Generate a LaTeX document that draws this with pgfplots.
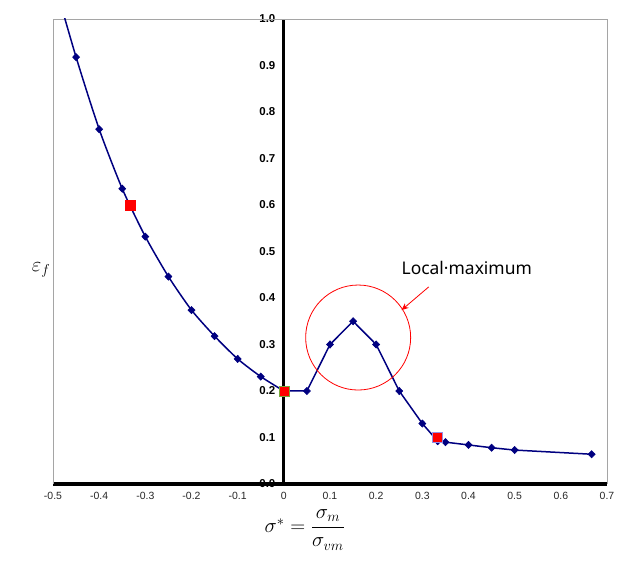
\documentclass[border=0pt]{standalone}
\usepackage{fontspec}
\setmainfont{Liberation Sans}
\newfontfamily\notosans{Noto Sans}
\usepackage{pgfplots}
\pgfplotsset{compat=1.18}
\usetikzlibrary{arrows.meta}
\definecolor{navyline}{RGB}{0,0,128}
\definecolor{framegray}{RGB}{165,165,165}
\begin{document}
\begin{tikzpicture}
\begin{axis}[
  width=554bp, height=465bp, scale only axis,
  xmin=-0.5, xmax=0.7, ymin=0, ymax=1,
  axis x line=bottom, axis y line=middle,
  axis line style={-, black, line width=3bp},
  hide obscured x ticks=false, hide obscured y ticks=false,
  xtick={-0.5,-0.4,-0.3,-0.2,-0.1,0,0.1,0.2,0.3,0.4,0.5,0.6,0.7},
  ytick={0,0.1,0.2,0.3,0.4,0.5,0.6,0.7,0.8,0.9,1.0},
  major tick length=0pt,
  /pgf/number format/assume math mode=true,
  xticklabel style={font=\fontsize{10.5}{12}\selectfont, text=black!85, yshift=-5bp},
  yticklabel style={font=\bfseries\fontsize{11.5}{13}\selectfont, xshift=-5bp,
    /pgf/number format/.cd, fixed, fixed zerofill, precision=1},
  clip mode=individual,
]
\draw[framegray, line width=0.9bp] (rel axis cs:0,0) -- (rel axis cs:0,1) -- (rel axis cs:1,1) -- (rel axis cs:1,0);
\coordinate (BL) at (rel axis cs:0,0);
\coordinate (TR) at (rel axis cs:1,1);

% left branch (smoothed)
\addplot[navyline, line width=1.5bp, smooth, tension=0.4, mark=diamond*, mark size=3.6bp,
  mark options={fill=navyline, draw=navyline, line width=0.6bp, solid, xscale=1.3}]
  coordinates {(-0.5,1.09) (-0.45,0.918) (-0.4,0.763) (-0.35,0.635) (-0.3,0.532) (-0.25,0.446)
   (-0.2,0.374) (-0.15,0.318) (-0.1,0.269) (-0.05,0.231) (0,0.2)};
% right branch
\addplot[navyline, line width=1.5bp, mark=diamond*, mark size=3.6bp,
  mark options={fill=navyline, draw=navyline, line width=0.6bp, solid, xscale=1.3}]
  coordinates {(0,0.2) (0.05,0.2) (0.1,0.3) (0.15,0.35) (0.2,0.3) (0.25,0.2) (0.3,0.13)
   (0.3333,0.092) (0.35,0.09) (0.4,0.084) (0.45,0.078) (0.5,0.073) (0.6667,0.064)};

% red squares
\addplot[only marks, mark=square*, mark size=5bp, mark options={fill=red, draw=red, line width=0.6bp}]
  coordinates {(-0.3333,0.6)};
\addplot[only marks, mark=square*, mark size=5bp, mark options={fill=red, draw={rgb,255:red,120;green,170;blue,60}, line width=0.6bp}]
  coordinates {(0,0.2)};
\addplot[only marks, mark=square*, mark size=5bp, mark options={fill=red, draw={rgb,255:red,150;green,140;blue,230}, line width=0.6bp}]
  coordinates {(0.3333,0.1)};

% annotation
\draw[red, line width=0.8bp] (axis cs:0.161,0.315) circle[radius=52.5bp];
\draw[red, line width=0.8bp, -{Stealth[length=7bp,width=6bp]}] (axis cs:0.314,0.424) -- (axis cs:0.255,0.374);
\node[anchor=base west, inner sep=0pt, font=\notosans\fontsize{17.5}{20}\selectfont] at (axis cs:0.2548,0.4495) {Local·maximum};

% axis labels
\node[font=\fontsize{20}{24}\selectfont] at (rel axis cs:0,0.46) [xshift=-12bp] {$\varepsilon_f$};
\node[font=\fontsize{21}{25}\selectfont] at (axis cs:0.0455,0) [yshift=-46bp] {$\sigma^{*} = \displaystyle\frac{\sigma_m}{\sigma_{vm}}$};
\end{axis}
\pgfresetboundingbox
\path ([shift={(-53bp,-86bp)}]BL) rectangle ([shift={(22bp,19bp)}]TR);
\end{tikzpicture}
\end{document}
